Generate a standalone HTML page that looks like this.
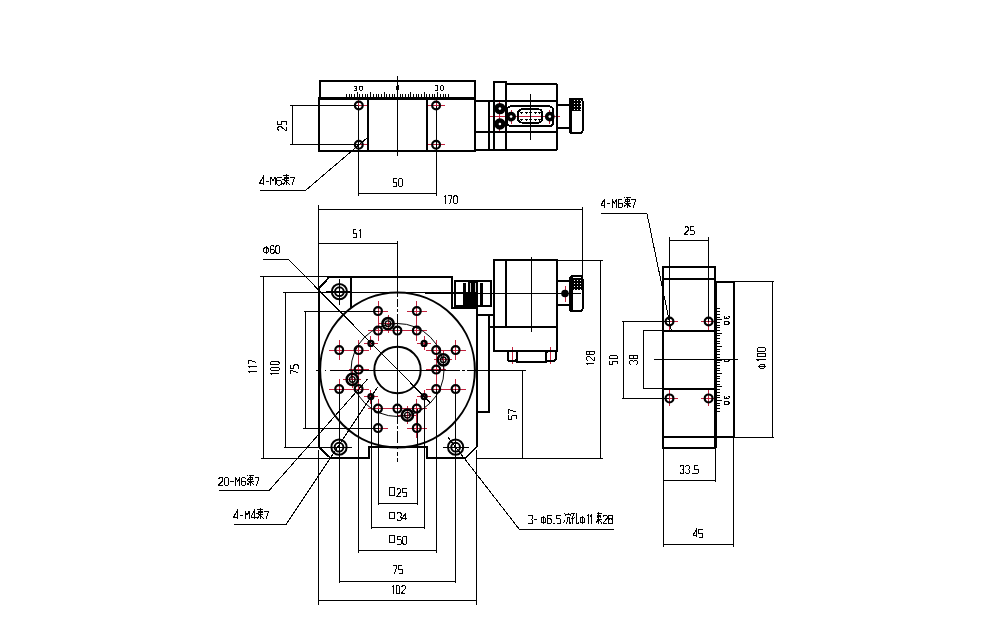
<!DOCTYPE html>
<html><head><meta charset="utf-8"><style>
html,body{margin:0;padding:0;background:#fff;width:995px;height:619px;overflow:hidden}
svg{display:block}
text{font-family:"Liberation Sans",sans-serif;fill:#000}
line,polyline,polygon,rect,path{shape-rendering:crispEdges}
</style></head><body>
<svg width="995" height="619" viewBox="0 0 995 619">
<defs><pattern id="knurl" width="3" height="3" patternUnits="userSpaceOnUse"><rect width="3" height="3" fill="#000"/><rect x="1" y="1" width="1.3" height="1.3" fill="#fff"/></pattern></defs>
<rect width="995" height="619" fill="#fff"/>
<line x1="350.3" y1="105.5" x2="367.3" y2="105.5" stroke="#c0203c" stroke-width="1" />
<line x1="358.8" y1="97.0" x2="358.8" y2="114.0" stroke="#c0203c" stroke-width="1" />
<line x1="350.3" y1="144.7" x2="367.3" y2="144.7" stroke="#c0203c" stroke-width="1" />
<line x1="358.8" y1="136.2" x2="358.8" y2="153.2" stroke="#c0203c" stroke-width="1" />
<line x1="427.6" y1="105.5" x2="444.6" y2="105.5" stroke="#c0203c" stroke-width="1" />
<line x1="436.1" y1="97.0" x2="436.1" y2="114.0" stroke="#c0203c" stroke-width="1" />
<line x1="427.6" y1="144.7" x2="444.6" y2="144.7" stroke="#c0203c" stroke-width="1" />
<line x1="436.1" y1="136.2" x2="436.1" y2="153.2" stroke="#c0203c" stroke-width="1" />
<line x1="490" y1="116.6" x2="560" y2="116.6" stroke="#c0203c" stroke-width="1" />
<line x1="504.1" y1="116.6" x2="518.1" y2="116.6" stroke="#c0203c" stroke-width="1" />
<line x1="511.1" y1="109.6" x2="511.1" y2="123.6" stroke="#c0203c" stroke-width="1" />
<line x1="542.8" y1="116.6" x2="556.8" y2="116.6" stroke="#c0203c" stroke-width="1" />
<line x1="549.8" y1="109.6" x2="549.8" y2="123.6" stroke="#c0203c" stroke-width="1" />
<line x1="492.9" y1="108.6" x2="506.9" y2="108.6" stroke="#c0203c" stroke-width="1" />
<line x1="499.9" y1="101.6" x2="499.9" y2="115.6" stroke="#c0203c" stroke-width="1" />
<line x1="492.9" y1="124" x2="506.9" y2="124" stroke="#c0203c" stroke-width="1" />
<line x1="499.9" y1="117" x2="499.9" y2="131" stroke="#c0203c" stroke-width="1" />
<line x1="368.0" y1="311.1" x2="388.0" y2="311.1" stroke="#c0203c" stroke-width="1" />
<line x1="378.0" y1="301.1" x2="378.0" y2="321.1" stroke="#c0203c" stroke-width="1" />
<line x1="406.79999999999995" y1="311.1" x2="426.79999999999995" y2="311.1" stroke="#c0203c" stroke-width="1" />
<line x1="416.79999999999995" y1="301.1" x2="416.79999999999995" y2="321.1" stroke="#c0203c" stroke-width="1" />
<line x1="368.0" y1="330.6" x2="388.0" y2="330.6" stroke="#c0203c" stroke-width="1" />
<line x1="378.0" y1="320.6" x2="378.0" y2="340.6" stroke="#c0203c" stroke-width="1" />
<line x1="387.4" y1="330.6" x2="407.4" y2="330.6" stroke="#c0203c" stroke-width="1" />
<line x1="397.4" y1="320.6" x2="397.4" y2="340.6" stroke="#c0203c" stroke-width="1" />
<line x1="406.79999999999995" y1="330.6" x2="426.79999999999995" y2="330.6" stroke="#c0203c" stroke-width="1" />
<line x1="416.79999999999995" y1="320.6" x2="416.79999999999995" y2="340.6" stroke="#c0203c" stroke-width="1" />
<line x1="329.2" y1="350.1" x2="349.2" y2="350.1" stroke="#c0203c" stroke-width="1" />
<line x1="339.2" y1="340.1" x2="339.2" y2="360.1" stroke="#c0203c" stroke-width="1" />
<line x1="348.59999999999997" y1="350.1" x2="368.59999999999997" y2="350.1" stroke="#c0203c" stroke-width="1" />
<line x1="358.59999999999997" y1="340.1" x2="358.59999999999997" y2="360.1" stroke="#c0203c" stroke-width="1" />
<line x1="426.2" y1="350.1" x2="446.2" y2="350.1" stroke="#c0203c" stroke-width="1" />
<line x1="436.2" y1="340.1" x2="436.2" y2="360.1" stroke="#c0203c" stroke-width="1" />
<line x1="445.59999999999997" y1="350.1" x2="465.59999999999997" y2="350.1" stroke="#c0203c" stroke-width="1" />
<line x1="455.59999999999997" y1="340.1" x2="455.59999999999997" y2="360.1" stroke="#c0203c" stroke-width="1" />
<line x1="348.59999999999997" y1="369.6" x2="368.59999999999997" y2="369.6" stroke="#c0203c" stroke-width="1" />
<line x1="358.59999999999997" y1="359.6" x2="358.59999999999997" y2="379.6" stroke="#c0203c" stroke-width="1" />
<line x1="426.2" y1="369.6" x2="446.2" y2="369.6" stroke="#c0203c" stroke-width="1" />
<line x1="436.2" y1="359.6" x2="436.2" y2="379.6" stroke="#c0203c" stroke-width="1" />
<line x1="329.2" y1="389.1" x2="349.2" y2="389.1" stroke="#c0203c" stroke-width="1" />
<line x1="339.2" y1="379.1" x2="339.2" y2="399.1" stroke="#c0203c" stroke-width="1" />
<line x1="348.59999999999997" y1="389.1" x2="368.59999999999997" y2="389.1" stroke="#c0203c" stroke-width="1" />
<line x1="358.59999999999997" y1="379.1" x2="358.59999999999997" y2="399.1" stroke="#c0203c" stroke-width="1" />
<line x1="426.2" y1="389.1" x2="446.2" y2="389.1" stroke="#c0203c" stroke-width="1" />
<line x1="436.2" y1="379.1" x2="436.2" y2="399.1" stroke="#c0203c" stroke-width="1" />
<line x1="445.59999999999997" y1="389.1" x2="465.59999999999997" y2="389.1" stroke="#c0203c" stroke-width="1" />
<line x1="455.59999999999997" y1="379.1" x2="455.59999999999997" y2="399.1" stroke="#c0203c" stroke-width="1" />
<line x1="368.0" y1="408.6" x2="388.0" y2="408.6" stroke="#c0203c" stroke-width="1" />
<line x1="378.0" y1="398.6" x2="378.0" y2="418.6" stroke="#c0203c" stroke-width="1" />
<line x1="387.4" y1="408.6" x2="407.4" y2="408.6" stroke="#c0203c" stroke-width="1" />
<line x1="397.4" y1="398.6" x2="397.4" y2="418.6" stroke="#c0203c" stroke-width="1" />
<line x1="406.79999999999995" y1="408.6" x2="426.79999999999995" y2="408.6" stroke="#c0203c" stroke-width="1" />
<line x1="416.79999999999995" y1="398.6" x2="416.79999999999995" y2="418.6" stroke="#c0203c" stroke-width="1" />
<line x1="368.0" y1="428.1" x2="388.0" y2="428.1" stroke="#c0203c" stroke-width="1" />
<line x1="378.0" y1="418.1" x2="378.0" y2="438.1" stroke="#c0203c" stroke-width="1" />
<line x1="406.79999999999995" y1="428.1" x2="426.79999999999995" y2="428.1" stroke="#c0203c" stroke-width="1" />
<line x1="416.79999999999995" y1="418.1" x2="416.79999999999995" y2="438.1" stroke="#c0203c" stroke-width="1" />
<line x1="363.9" y1="343.4" x2="377.9" y2="343.4" stroke="#c0203c" stroke-width="1" />
<line x1="370.9" y1="336.4" x2="370.9" y2="350.4" stroke="#c0203c" stroke-width="1" />
<line x1="363.9" y1="396.6" x2="377.9" y2="396.6" stroke="#c0203c" stroke-width="1" />
<line x1="370.9" y1="389.6" x2="370.9" y2="403.6" stroke="#c0203c" stroke-width="1" />
<line x1="417.1" y1="343.4" x2="431.1" y2="343.4" stroke="#c0203c" stroke-width="1" />
<line x1="424.1" y1="336.4" x2="424.1" y2="350.4" stroke="#c0203c" stroke-width="1" />
<line x1="417.1" y1="396.6" x2="431.1" y2="396.6" stroke="#c0203c" stroke-width="1" />
<line x1="424.1" y1="389.6" x2="424.1" y2="403.6" stroke="#c0203c" stroke-width="1" />
<line x1="379.0" y1="323.7" x2="397.0" y2="323.7" stroke="#c0203c" stroke-width="1" />
<line x1="388.0" y1="314.7" x2="388.0" y2="332.7" stroke="#c0203c" stroke-width="1" />
<line x1="434.3" y1="359.8" x2="452.3" y2="359.8" stroke="#c0203c" stroke-width="1" />
<line x1="443.3" y1="350.8" x2="443.3" y2="368.8" stroke="#c0203c" stroke-width="1" />
<line x1="343.3" y1="379.4" x2="361.3" y2="379.4" stroke="#c0203c" stroke-width="1" />
<line x1="352.3" y1="370.4" x2="352.3" y2="388.4" stroke="#c0203c" stroke-width="1" />
<line x1="398.4" y1="415.2" x2="416.4" y2="415.2" stroke="#c0203c" stroke-width="1" />
<line x1="407.4" y1="406.2" x2="407.4" y2="424.2" stroke="#c0203c" stroke-width="1" />
<line x1="565" y1="286" x2="565" y2="302" stroke="#c0203c" stroke-width="1" />
<line x1="512.4" y1="347" x2="512.4" y2="364" stroke="#c0203c" stroke-width="1" />
<line x1="550.8" y1="347" x2="550.8" y2="364" stroke="#c0203c" stroke-width="1" />
<line x1="661.5" y1="321.5" x2="677.5" y2="321.5" stroke="#c0203c" stroke-width="1" />
<line x1="669.5" y1="313.5" x2="669.5" y2="329.5" stroke="#c0203c" stroke-width="1" />
<line x1="661.5" y1="398.4" x2="677.5" y2="398.4" stroke="#c0203c" stroke-width="1" />
<line x1="669.5" y1="390.4" x2="669.5" y2="406.4" stroke="#c0203c" stroke-width="1" />
<line x1="700.6" y1="321.5" x2="716.6" y2="321.5" stroke="#c0203c" stroke-width="1" />
<line x1="708.6" y1="313.5" x2="708.6" y2="329.5" stroke="#c0203c" stroke-width="1" />
<line x1="700.6" y1="398.4" x2="716.6" y2="398.4" stroke="#c0203c" stroke-width="1" />
<line x1="708.6" y1="390.4" x2="708.6" y2="406.4" stroke="#c0203c" stroke-width="1" />
<rect x="320" y="81" width="155" height="17" rx="0" fill="none" stroke="#000" stroke-width="2"/>
<rect x="319" y="98" width="156" height="53" rx="0" fill="none" stroke="#000" stroke-width="2"/>
<line x1="319" y1="98" x2="475" y2="98" stroke="#000" stroke-width="3" />
<line x1="368" y1="98" x2="368" y2="151" stroke="#000" stroke-width="2" />
<line x1="427" y1="98" x2="427" y2="151" stroke="#000" stroke-width="2" />
<line x1="397.5" y1="76" x2="397.5" y2="156" stroke="#000" stroke-width="1" />
<line x1="346.5" y1="94.4" x2="346.5" y2="98" stroke="#000" stroke-width="1" />
<line x1="349.2" y1="94.4" x2="349.2" y2="98" stroke="#000" stroke-width="1" />
<line x1="351.8" y1="94.4" x2="351.8" y2="98" stroke="#000" stroke-width="1" />
<line x1="354.5" y1="94.4" x2="354.5" y2="98" stroke="#000" stroke-width="1" />
<line x1="357.2" y1="92.3" x2="357.2" y2="98" stroke="#000" stroke-width="1" />
<line x1="359.9" y1="94.4" x2="359.9" y2="98" stroke="#000" stroke-width="1" />
<line x1="362.6" y1="94.4" x2="362.6" y2="98" stroke="#000" stroke-width="1" />
<line x1="365.2" y1="94.4" x2="365.2" y2="98" stroke="#000" stroke-width="1" />
<line x1="367.9" y1="94.4" x2="367.9" y2="98" stroke="#000" stroke-width="1" />
<line x1="370.6" y1="92.3" x2="370.6" y2="98" stroke="#000" stroke-width="1" />
<line x1="373.3" y1="94.4" x2="373.3" y2="98" stroke="#000" stroke-width="1" />
<line x1="376.0" y1="94.4" x2="376.0" y2="98" stroke="#000" stroke-width="1" />
<line x1="378.6" y1="94.4" x2="378.6" y2="98" stroke="#000" stroke-width="1" />
<line x1="381.3" y1="94.4" x2="381.3" y2="98" stroke="#000" stroke-width="1" />
<line x1="384.0" y1="92.3" x2="384.0" y2="98" stroke="#000" stroke-width="1" />
<line x1="386.7" y1="94.4" x2="386.7" y2="98" stroke="#000" stroke-width="1" />
<line x1="389.4" y1="94.4" x2="389.4" y2="98" stroke="#000" stroke-width="1" />
<line x1="392.0" y1="94.4" x2="392.0" y2="98" stroke="#000" stroke-width="1" />
<line x1="394.7" y1="94.4" x2="394.7" y2="98" stroke="#000" stroke-width="1" />
<line x1="397.4" y1="92.3" x2="397.4" y2="98" stroke="#000" stroke-width="1" />
<line x1="400.1" y1="94.4" x2="400.1" y2="98" stroke="#000" stroke-width="1" />
<line x1="402.8" y1="94.4" x2="402.8" y2="98" stroke="#000" stroke-width="1" />
<line x1="405.4" y1="94.4" x2="405.4" y2="98" stroke="#000" stroke-width="1" />
<line x1="408.1" y1="94.4" x2="408.1" y2="98" stroke="#000" stroke-width="1" />
<line x1="410.8" y1="92.3" x2="410.8" y2="98" stroke="#000" stroke-width="1" />
<line x1="413.5" y1="94.4" x2="413.5" y2="98" stroke="#000" stroke-width="1" />
<line x1="416.2" y1="94.4" x2="416.2" y2="98" stroke="#000" stroke-width="1" />
<line x1="418.8" y1="94.4" x2="418.8" y2="98" stroke="#000" stroke-width="1" />
<line x1="421.5" y1="94.4" x2="421.5" y2="98" stroke="#000" stroke-width="1" />
<line x1="424.2" y1="92.3" x2="424.2" y2="98" stroke="#000" stroke-width="1" />
<line x1="426.9" y1="94.4" x2="426.9" y2="98" stroke="#000" stroke-width="1" />
<line x1="429.6" y1="94.4" x2="429.6" y2="98" stroke="#000" stroke-width="1" />
<line x1="432.2" y1="94.4" x2="432.2" y2="98" stroke="#000" stroke-width="1" />
<line x1="434.9" y1="94.4" x2="434.9" y2="98" stroke="#000" stroke-width="1" />
<line x1="437.6" y1="92.3" x2="437.6" y2="98" stroke="#000" stroke-width="1" />
<line x1="440.3" y1="94.4" x2="440.3" y2="98" stroke="#000" stroke-width="1" />
<line x1="443.0" y1="94.4" x2="443.0" y2="98" stroke="#000" stroke-width="1" />
<line x1="445.6" y1="94.4" x2="445.6" y2="98" stroke="#000" stroke-width="1" />
<line x1="448.3" y1="94.4" x2="448.3" y2="98" stroke="#000" stroke-width="1" />
<path transform="translate(354.15,86.05)" d="M0.00,0.60 L0.34,0.00 L1.95,0.00 L2.29,0.40 L2.29,1.80 L1.83,2.25 L2.29,2.70 L2.29,4.10 L1.95,4.50 L0.34,4.50 L0.00,3.90 M6.17,0.00 L7.32,0.00 L7.89,0.50 L7.89,4.00 L7.32,4.50 L6.17,4.50 L5.60,4.00 L5.60,0.50 Z" fill="none" stroke="#000" stroke-width="1.0" stroke-linejoin="miter"/>
<path transform="translate(396.60,85.70)" d="M0.50,0.00 L1.50,0.00 L2.00,0.44 L2.00,3.56 L1.50,4.00 L0.50,4.00 L0.00,3.56 L0.00,0.44 Z" fill="none" stroke="#000" stroke-width="1.0" stroke-linejoin="miter"/>
<path transform="translate(435.00,85.65)" d="M0.00,0.63 L0.38,0.00 L2.12,0.00 L2.50,0.42 L2.50,1.88 L2.00,2.35 L2.50,2.82 L2.50,4.28 L2.12,4.70 L0.38,4.70 L0.00,4.07 M6.22,0.00 L7.47,0.00 L8.10,0.52 L8.10,4.18 L7.47,4.70 L6.22,4.70 L5.60,4.18 L5.60,0.52 Z" fill="none" stroke="#000" stroke-width="1.0" stroke-linejoin="miter"/>
<line x1="358.8" y1="105.5" x2="358.8" y2="196" stroke="#000" stroke-width="1" />
<line x1="436.1" y1="105.5" x2="436.1" y2="196" stroke="#000" stroke-width="1" />
<line x1="290" y1="105.5" x2="358" y2="105.5" stroke="#000" stroke-width="1" />
<line x1="290" y1="144.7" x2="358" y2="144.7" stroke="#000" stroke-width="1" />
<line x1="292.5" y1="105.5" x2="292.5" y2="144.7" stroke="#000" stroke-width="1" />
<circle cx="358.8" cy="105.5" r="3.9" fill="none" stroke="#000" stroke-width="2.2"/>
<circle cx="358.8" cy="144.7" r="3.9" fill="none" stroke="#000" stroke-width="2.2"/>
<circle cx="436.1" cy="105.5" r="3.9" fill="none" stroke="#000" stroke-width="2.2"/>
<circle cx="436.1" cy="144.7" r="3.9" fill="none" stroke="#000" stroke-width="2.2"/>
<path transform="rotate(-90 282.1 126) translate(277.60,121.75)" d="M0.00,1.42 L0.94,0.00 L2.81,0.00 L3.75,0.94 L3.75,3.31 L0.00,7.56 L0.00,8.50 L3.75,8.50 M9.35,0.00 L5.60,0.00 L5.60,3.78 L8.79,3.78 L9.35,4.53 L9.35,7.74 L8.79,8.50 L5.60,8.50" fill="none" stroke="#000" stroke-width="1.0" stroke-linejoin="miter"/>
<line x1="358.8" y1="193.6" x2="436.1" y2="193.6" stroke="#000" stroke-width="1" />
<path transform="translate(393.15,178.50)" d="M3.54,0.00 L0.00,0.00 L0.00,3.56 L3.01,3.56 L3.54,4.27 L3.54,7.29 L3.01,8.00 L0.00,8.00 M6.49,0.00 L8.26,0.00 L9.14,0.89 L9.14,7.11 L8.26,8.00 L6.49,8.00 L5.60,7.11 L5.60,0.89 Z" fill="none" stroke="#000" stroke-width="1.0" stroke-linejoin="miter"/>
<polyline points="367,138 305.6,190.4 260,190.4" fill="none" stroke="#000" stroke-width="1"/>
<path transform="translate(259.80,177.00)" d="M3.21,8.00 L3.21,0.00 L0.00,5.78 L0.00,6.22 L4.49,6.22 M6.13,4.27 L9.34,4.27 M11.20,8.00 L11.20,0.00 L13.34,4.00 L15.48,0.00 L15.48,8.00 M21.48,0.89 L20.41,0.00 L18.27,0.00 L17.20,0.89 L17.20,7.11 L18.27,8.00 L20.41,8.00 L21.48,7.11 L21.48,4.44 L20.41,3.56 L17.20,3.56 M23.12,-1.96 L23.87,-1.42 M24.51,-1.60 L29.65,-1.60 M26.44,-2.67 L26.44,8.36 M24.30,0.36 L28.79,0.36 M24.73,0.36 L24.73,2.84 M28.36,0.36 L28.36,2.49 M22.80,2.31 L23.87,2.84 M24.08,3.73 L29.65,3.73 M26.44,3.91 L23.23,7.47 M22.80,6.04 L23.87,6.40 M26.44,4.44 L29.86,7.64 M27.51,5.87 L28.58,5.51 M25.15,1.78 L27.72,1.78 M30.40,0.00 L34.68,0.00 L34.68,1.07 L32.11,8.00" fill="none" stroke="#000" stroke-width="1.0" stroke-linejoin="miter"/>
<line x1="475" y1="101" x2="557" y2="101" stroke="#000" stroke-width="2" />
<line x1="475" y1="131.5" x2="557" y2="131.5" stroke="#000" stroke-width="2" />
<line x1="475" y1="150" x2="557" y2="150" stroke="#000" stroke-width="2" />
<line x1="489" y1="101" x2="489" y2="150" stroke="#000" stroke-width="2" />
<rect x="494" y="81.5" width="12" height="68.5" rx="0" fill="none" stroke="#000" stroke-width="2"/>
<line x1="506" y1="84" x2="557" y2="84" stroke="#000" stroke-width="2" />
<line x1="557" y1="84" x2="557" y2="150" stroke="#000" stroke-width="2" />
<rect x="506.9" y="106.4" width="46.39999999999998" height="19.69999999999999" rx="4" fill="none" stroke="#000" stroke-width="2"/>
<rect x="518.1" y="109.3" width="24.299999999999955" height="13.299999999999997" rx="4" fill="none" stroke="#000" stroke-width="2"/>
<line x1="520.0" y1="112.5" x2="523.0" y2="112.5" stroke="#000" stroke-width="1" />
<line x1="521.5" y1="111.5" x2="521.5" y2="113.5" stroke="#000" stroke-width="1" />
<line x1="520.0" y1="119.5" x2="523.0" y2="119.5" stroke="#000" stroke-width="1" />
<line x1="521.5" y1="118.5" x2="521.5" y2="120.5" stroke="#000" stroke-width="1" />
<line x1="524.5" y1="112.5" x2="527.5" y2="112.5" stroke="#000" stroke-width="1" />
<line x1="526" y1="111.5" x2="526" y2="113.5" stroke="#000" stroke-width="1" />
<line x1="524.5" y1="119.5" x2="527.5" y2="119.5" stroke="#000" stroke-width="1" />
<line x1="526" y1="118.5" x2="526" y2="120.5" stroke="#000" stroke-width="1" />
<line x1="529.0" y1="112.5" x2="532.0" y2="112.5" stroke="#000" stroke-width="1" />
<line x1="530.5" y1="111.5" x2="530.5" y2="113.5" stroke="#000" stroke-width="1" />
<line x1="529.0" y1="119.5" x2="532.0" y2="119.5" stroke="#000" stroke-width="1" />
<line x1="530.5" y1="118.5" x2="530.5" y2="120.5" stroke="#000" stroke-width="1" />
<line x1="533.5" y1="112.5" x2="536.5" y2="112.5" stroke="#000" stroke-width="1" />
<line x1="535" y1="111.5" x2="535" y2="113.5" stroke="#000" stroke-width="1" />
<line x1="533.5" y1="119.5" x2="536.5" y2="119.5" stroke="#000" stroke-width="1" />
<line x1="535" y1="118.5" x2="535" y2="120.5" stroke="#000" stroke-width="1" />
<line x1="538.0" y1="112.5" x2="541.0" y2="112.5" stroke="#000" stroke-width="1" />
<line x1="539.5" y1="111.5" x2="539.5" y2="113.5" stroke="#000" stroke-width="1" />
<line x1="538.0" y1="119.5" x2="541.0" y2="119.5" stroke="#000" stroke-width="1" />
<line x1="539.5" y1="118.5" x2="539.5" y2="120.5" stroke="#000" stroke-width="1" />
<circle cx="511.1" cy="116.6" r="3.8" fill="#000" stroke="#000" stroke-width="2.2"/>
<circle cx="511.1" cy="116.6" r="1.3" fill="#fff" stroke="#000" stroke-width="0"/>
<circle cx="549.8" cy="116.6" r="3.8" fill="#000" stroke="#000" stroke-width="2.2"/>
<circle cx="549.8" cy="116.6" r="1.3" fill="#fff" stroke="#000" stroke-width="0"/>
<circle cx="499.9" cy="108.6" r="4.6" fill="#000" stroke="#000" stroke-width="2.2"/>
<circle cx="499.9" cy="108.6" r="1.3" fill="#fff" stroke="#000" stroke-width="0"/>
<circle cx="499.9" cy="124" r="4.6" fill="#000" stroke="#000" stroke-width="2.2"/>
<circle cx="499.9" cy="124" r="1.3" fill="#fff" stroke="#000" stroke-width="0"/>
<line x1="530.4" y1="94" x2="530.4" y2="140" stroke="#000" stroke-width="1" />
<rect x="557" y="104.5" width="12.600000000000023" height="23.5" rx="0" fill="none" stroke="#000" stroke-width="2"/>
<rect x="569.6" y="98.5" width="12.899999999999977" height="34.69999999999999" rx="2.5" fill="none" stroke="#000" stroke-width="2"/>
<line x1="571.2" y1="99" x2="571.2" y2="133" stroke="#000" stroke-width="2" />
<rect x="572" y="100" width="9" height="11" fill="url(#knurl)"/>
<line x1="318.6" y1="205" x2="318.6" y2="289" stroke="#000" stroke-width="1" />
<line x1="318.6" y1="209.7" x2="582.4" y2="209.7" stroke="#000" stroke-width="1" />
<line x1="582.4" y1="207" x2="582.4" y2="277" stroke="#000" stroke-width="1" />
<path transform="translate(443.35,195.80)" d="M0.67,1.42 L2.02,0.00 L2.02,8.00 M5.00,0.00 L8.37,0.00 L8.37,1.07 L6.35,8.00 M11.44,0.00 L13.13,0.00 L13.97,0.89 L13.97,7.11 L13.13,8.00 L11.44,8.00 L10.60,7.11 L10.60,0.89 Z" fill="none" stroke="#000" stroke-width="1.0" stroke-linejoin="miter"/>
<line x1="318.6" y1="243.9" x2="397.5" y2="243.9" stroke="#000" stroke-width="1" />
<path transform="translate(353.40,229.50)" d="M3.08,0.00 L0.00,0.00 L0.00,3.56 L2.62,3.56 L3.08,4.27 L3.08,7.29 L2.62,8.00 L0.00,8.00 M6.22,1.42 L7.45,0.00 L7.45,8.00" fill="none" stroke="#000" stroke-width="1.0" stroke-linejoin="miter"/>
<line x1="397.5" y1="241" x2="397.5" y2="293" stroke="#000" stroke-width="1" />
<line x1="397.5" y1="293" x2="397.5" y2="462" stroke="#000" stroke-width="1" stroke-dasharray="4,2,8,2,3,2,110,2,3,2,12,3,3,3"/>
<line x1="316" y1="370" x2="477" y2="370" stroke="#000" stroke-width="1" stroke-dasharray="4,5,1,4,130,2,3,2,12,3"/>
<polyline points="263,259.4 288.4,259.4 430.5,403" fill="none" stroke="#000" stroke-width="1"/>
<path transform="translate(263.80,245.75)" d="M0.97,2.17 L3.49,2.17 L4.46,3.00 L4.46,5.83 L3.49,6.67 L0.97,6.67 L0.00,5.83 L0.00,3.00 Z M2.23,0.50 L2.23,8.00 M10.28,0.83 L9.31,0.00 L7.37,0.00 L6.40,0.83 L6.40,6.67 L7.37,7.50 L9.31,7.50 L10.28,6.67 L10.28,4.17 L9.31,3.33 L6.40,3.33 M12.97,0.00 L14.91,0.00 L15.88,0.83 L15.88,6.67 L14.91,7.50 L12.97,7.50 L12.00,6.67 L12.00,0.83 Z" fill="none" stroke="#000" stroke-width="1.0" stroke-linejoin="miter"/>
<line x1="260.2" y1="276.8" x2="330" y2="276.8" stroke="#000" stroke-width="1" />
<line x1="263.6" y1="276.8" x2="263.6" y2="458.2" stroke="#000" stroke-width="1" />
<line x1="260.5" y1="458.2" x2="331" y2="458.2" stroke="#000" stroke-width="1" />
<path transform="rotate(-90 252.6 367.4) translate(246.10,363.50)" d="M0.74,1.39 L2.23,0.00 L2.23,7.80 M5.74,1.39 L7.23,0.00 L7.23,7.80 M10.00,0.00 L13.71,0.00 L13.71,1.04 L11.49,7.80" fill="none" stroke="#000" stroke-width="1.0" stroke-linejoin="miter"/>
<line x1="283.4" y1="292.2" x2="470" y2="292.2" stroke="#000" stroke-width="1" />
<line x1="285.3" y1="292.2" x2="285.3" y2="447.2" stroke="#000" stroke-width="1" />
<line x1="284" y1="447.2" x2="339" y2="447.2" stroke="#000" stroke-width="1" />
<path transform="rotate(-90 274.9 369.9) translate(269.40,365.65)" d="M0.60,1.51 L1.81,0.00 L1.81,8.50 M5.75,0.00 L7.26,0.00 L8.01,0.94 L8.01,7.56 L7.26,8.50 L5.75,8.50 L5.00,7.56 L5.00,0.94 Z M11.35,0.00 L12.86,0.00 L13.61,0.94 L13.61,7.56 L12.86,8.50 L11.35,8.50 L10.60,7.56 L10.60,0.94 Z" fill="none" stroke="#000" stroke-width="1.0" stroke-linejoin="miter"/>
<line x1="303.5" y1="311.3" x2="378.5" y2="311.3" stroke="#000" stroke-width="1" />
<line x1="305.2" y1="311.3" x2="305.2" y2="428.1" stroke="#000" stroke-width="1" />
<line x1="303.2" y1="428.1" x2="378.5" y2="428.1" stroke="#000" stroke-width="1" />
<path transform="rotate(-90 294.4 369.8) translate(289.90,365.95)" d="M0.00,0.00 L3.75,0.00 L3.75,1.03 L1.50,7.70 M9.35,0.00 L5.60,0.00 L5.60,3.42 L8.79,3.42 L9.35,4.11 L9.35,7.02 L8.79,7.70 L5.60,7.70" fill="none" stroke="#000" stroke-width="1.0" stroke-linejoin="miter"/>
<polygon points="318.6,288.8 329.4,276.8 451.6,276.8 451.6,308 477,308 477,446.5 465.5,458.1 426.7,458.1 426.7,447.2 368.8,447.2 368.8,458.1 330.6,458.1 318.6,446.5" fill="none" stroke="#000" stroke-width="2"/>
<line x1="350.9" y1="276.8" x2="350.9" y2="307.8" stroke="#000" stroke-width="2" />
<circle cx="397.5" cy="370" r="77.4" fill="none" stroke="#000" stroke-width="2"/>
<circle cx="397.5" cy="370" r="23.2" fill="none" stroke="#000" stroke-width="2"/>
<circle cx="397.5" cy="370" r="46.5" fill="none" stroke="#000" stroke-width="1"/>
<circle cx="339.4" cy="291.7" r="7.6" fill="none" stroke="#000" stroke-width="2"/>
<circle cx="339.4" cy="291.7" r="4.4" fill="none" stroke="#000" stroke-width="2"/>
<line x1="339.4" y1="278.7" x2="339.4" y2="304.7" stroke="#000" stroke-width="1" />
<line x1="326.4" y1="291.7" x2="352.4" y2="291.7" stroke="#000" stroke-width="1" />
<circle cx="339" cy="447.2" r="7.6" fill="none" stroke="#000" stroke-width="2"/>
<circle cx="339" cy="447.2" r="4.4" fill="none" stroke="#000" stroke-width="2"/>
<line x1="339" y1="434.2" x2="339" y2="460.2" stroke="#000" stroke-width="1" />
<line x1="326" y1="447.2" x2="352" y2="447.2" stroke="#000" stroke-width="1" />
<circle cx="455.6" cy="447.2" r="7.6" fill="none" stroke="#000" stroke-width="2"/>
<circle cx="455.6" cy="447.2" r="4.4" fill="none" stroke="#000" stroke-width="2"/>
<line x1="455.6" y1="434.2" x2="455.6" y2="460.2" stroke="#000" stroke-width="1" />
<line x1="442.6" y1="447.2" x2="468.6" y2="447.2" stroke="#000" stroke-width="1" />
<circle cx="378.0" cy="311.1" r="3.9" fill="none" stroke="#000" stroke-width="2.2"/>
<circle cx="416.79999999999995" cy="311.1" r="3.9" fill="none" stroke="#000" stroke-width="2.2"/>
<circle cx="378.0" cy="330.6" r="3.9" fill="none" stroke="#000" stroke-width="2.2"/>
<circle cx="397.4" cy="330.6" r="3.9" fill="none" stroke="#000" stroke-width="2.2"/>
<circle cx="416.79999999999995" cy="330.6" r="3.9" fill="none" stroke="#000" stroke-width="2.2"/>
<circle cx="339.2" cy="350.1" r="3.9" fill="none" stroke="#000" stroke-width="2.2"/>
<circle cx="358.59999999999997" cy="350.1" r="3.9" fill="none" stroke="#000" stroke-width="2.2"/>
<circle cx="436.2" cy="350.1" r="3.9" fill="none" stroke="#000" stroke-width="2.2"/>
<circle cx="455.59999999999997" cy="350.1" r="3.9" fill="none" stroke="#000" stroke-width="2.2"/>
<circle cx="358.59999999999997" cy="369.6" r="3.9" fill="none" stroke="#000" stroke-width="2.2"/>
<circle cx="436.2" cy="369.6" r="3.9" fill="none" stroke="#000" stroke-width="2.2"/>
<circle cx="339.2" cy="389.1" r="3.9" fill="none" stroke="#000" stroke-width="2.2"/>
<circle cx="358.59999999999997" cy="389.1" r="3.9" fill="none" stroke="#000" stroke-width="2.2"/>
<circle cx="436.2" cy="389.1" r="3.9" fill="none" stroke="#000" stroke-width="2.2"/>
<circle cx="455.59999999999997" cy="389.1" r="3.9" fill="none" stroke="#000" stroke-width="2.2"/>
<circle cx="378.0" cy="408.6" r="3.9" fill="none" stroke="#000" stroke-width="2.2"/>
<circle cx="397.4" cy="408.6" r="3.9" fill="none" stroke="#000" stroke-width="2.2"/>
<circle cx="416.79999999999995" cy="408.6" r="3.9" fill="none" stroke="#000" stroke-width="2.2"/>
<circle cx="378.0" cy="428.1" r="3.9" fill="none" stroke="#000" stroke-width="2.2"/>
<circle cx="416.79999999999995" cy="428.1" r="3.9" fill="none" stroke="#000" stroke-width="2.2"/>
<circle cx="370.9" cy="343.4" r="2.4" fill="none" stroke="#000" stroke-width="2.4"/>
<circle cx="370.9" cy="396.6" r="2.4" fill="none" stroke="#000" stroke-width="2.4"/>
<circle cx="424.1" cy="343.4" r="2.4" fill="none" stroke="#000" stroke-width="2.4"/>
<circle cx="424.1" cy="396.6" r="2.4" fill="none" stroke="#000" stroke-width="2.4"/>
<circle cx="388.0" cy="323.7" r="5.6" fill="none" stroke="#000" stroke-width="2.6"/>
<circle cx="388.0" cy="323.7" r="2.8" fill="none" stroke="#000" stroke-width="1.4"/>
<circle cx="443.3" cy="359.8" r="5.6" fill="none" stroke="#000" stroke-width="2.6"/>
<circle cx="443.3" cy="359.8" r="2.8" fill="none" stroke="#000" stroke-width="1.4"/>
<circle cx="352.3" cy="379.4" r="5.6" fill="none" stroke="#000" stroke-width="2.6"/>
<circle cx="352.3" cy="379.4" r="2.8" fill="none" stroke="#000" stroke-width="1.4"/>
<circle cx="407.4" cy="415.2" r="5.6" fill="none" stroke="#000" stroke-width="2.6"/>
<circle cx="407.4" cy="415.2" r="2.8" fill="none" stroke="#000" stroke-width="1.4"/>
<polyline points="218.6,490.4 269.2,490.4 367.6,379" fill="none" stroke="#000" stroke-width="1"/>
<path transform="translate(218.70,477.50)" d="M0.00,1.33 L1.05,0.00 L3.15,0.00 L4.20,0.89 L4.20,3.11 L0.00,7.11 L0.00,8.00 L4.20,8.00 M6.65,0.00 L8.75,0.00 L9.80,0.89 L9.80,7.11 L8.75,8.00 L6.65,8.00 L5.60,7.11 L5.60,0.89 Z M11.72,4.27 L14.88,4.27 M16.80,8.00 L16.80,0.00 L18.90,4.00 L21.00,0.00 L21.00,8.00 M27.00,0.89 L25.95,0.00 L23.85,0.00 L22.80,0.89 L22.80,7.11 L23.85,8.00 L25.95,8.00 L27.00,7.11 L27.00,4.44 L25.95,3.56 L22.80,3.56 M28.71,-1.96 L29.45,-1.42 M30.08,-1.60 L35.12,-1.60 M31.97,-2.67 L31.97,8.36 M29.87,0.36 L34.28,0.36 M30.29,0.36 L30.29,2.84 M33.86,0.36 L33.86,2.49 M28.40,2.31 L29.45,2.84 M29.66,3.73 L35.12,3.73 M31.97,3.91 L28.82,7.47 M28.40,6.04 L29.45,6.40 M31.97,4.44 L35.33,7.64 M33.02,5.87 L34.07,5.51 M30.71,1.78 L33.23,1.78 M36.00,0.00 L40.20,0.00 L40.20,1.07 L37.68,8.00" fill="none" stroke="#000" stroke-width="1.0" stroke-linejoin="miter"/>
<polyline points="233.8,524.5 286.1,524.5 377.8,386.7" fill="none" stroke="#000" stroke-width="1"/>
<path transform="translate(233.80,511.00)" d="M3.23,8.00 L3.23,0.00 L0.00,5.78 L0.00,6.22 L4.52,6.22 M6.14,4.27 L9.36,4.27 M11.20,8.00 L11.20,0.00 L13.35,4.00 L15.50,0.00 L15.50,8.00 M20.43,8.00 L20.43,0.00 L17.20,5.78 L17.20,6.22 L21.72,6.22 M23.12,-1.96 L23.88,-1.42 M24.52,-1.60 L29.68,-1.60 M26.46,-2.67 L26.46,8.36 M24.31,0.36 L28.82,0.36 M24.74,0.36 L24.74,2.84 M28.39,0.36 L28.39,2.49 M22.80,2.31 L23.88,2.84 M24.09,3.73 L29.68,3.73 M26.46,3.91 L23.23,7.47 M22.80,6.04 L23.88,6.40 M26.46,4.44 L29.90,7.64 M27.53,5.87 L28.61,5.51 M25.17,1.78 L27.75,1.78 M30.40,0.00 L34.70,0.00 L34.70,1.07 L32.12,8.00" fill="none" stroke="#000" stroke-width="1.0" stroke-linejoin="miter"/>
<line x1="318.6" y1="450" x2="318.6" y2="605" stroke="#000" stroke-width="1" />
<line x1="339.3" y1="389" x2="339.3" y2="583" stroke="#000" stroke-width="1" />
<line x1="358.6" y1="389" x2="358.6" y2="553" stroke="#000" stroke-width="1" />
<line x1="371.2" y1="396.6" x2="371.2" y2="529" stroke="#000" stroke-width="1" />
<line x1="378.6" y1="408.6" x2="378.6" y2="505" stroke="#000" stroke-width="1" />
<line x1="417.1" y1="408.6" x2="417.1" y2="505" stroke="#000" stroke-width="1" />
<line x1="424.2" y1="396.6" x2="424.2" y2="529" stroke="#000" stroke-width="1" />
<line x1="436.2" y1="389" x2="436.2" y2="553" stroke="#000" stroke-width="1" />
<line x1="455.6" y1="389" x2="455.6" y2="583" stroke="#000" stroke-width="1" />
<line x1="476.5" y1="450" x2="476.5" y2="605" stroke="#000" stroke-width="1" />
<line x1="378.6" y1="503.2" x2="417.1" y2="503.2" stroke="#000" stroke-width="1" />
<path d="M389.80,487.86 L394.80,487.86 L394.80,495.24 L389.80,495.24 Z M396.80,489.98 L397.80,488.60 L399.80,488.60 L400.80,489.52 L400.80,491.83 L396.80,495.98 L396.80,496.90 L400.80,496.90 M406.50,488.60 L402.50,488.60 L402.50,492.29 L405.90,492.29 L406.50,493.03 L406.50,496.16 L405.90,496.90 L402.50,496.90" fill="none" stroke="#000" stroke-width="1.0"/>
<line x1="371.2" y1="527.4" x2="424.2" y2="527.4" stroke="#000" stroke-width="1" />
<path d="M389.80,512.12 L394.80,512.12 L394.80,518.88 L389.80,518.88 Z M397.00,513.81 L397.60,512.80 L400.40,512.80 L401.00,513.48 L401.00,515.84 L400.20,516.60 L401.00,517.36 L401.00,519.72 L400.40,520.40 L397.60,520.40 L397.00,519.39 M405.50,520.40 L405.50,512.80 L402.50,518.29 L402.50,518.71 L406.70,518.71" fill="none" stroke="#000" stroke-width="1.0"/>
<line x1="358.6" y1="550.7" x2="436.2" y2="550.7" stroke="#000" stroke-width="1" />
<path d="M389.80,535.49 L394.80,535.49 L394.80,542.60 L389.80,542.60 Z M401.30,536.20 L397.30,536.20 L397.30,539.76 L400.70,539.76 L401.30,540.47 L401.30,543.49 L400.70,544.20 L397.30,544.20 M403.90,536.20 L405.90,536.20 L406.90,537.09 L406.90,543.31 L405.90,544.20 L403.90,544.20 L402.90,543.31 L402.90,537.09 Z" fill="none" stroke="#000" stroke-width="1.0"/>
<line x1="339.3" y1="581.5" x2="455.6" y2="581.5" stroke="#000" stroke-width="1" />
<path transform="translate(393.00,565.80)" d="M0.00,0.00 L3.75,0.00 L3.75,1.07 L1.50,8.00 M9.35,0.00 L5.60,0.00 L5.60,3.56 L8.79,3.56 L9.35,4.27 L9.35,7.29 L8.79,8.00 L5.60,8.00" fill="none" stroke="#000" stroke-width="1.0" stroke-linejoin="miter"/>
<line x1="318.6" y1="600.2" x2="476.5" y2="600.2" stroke="#000" stroke-width="1" />
<path transform="translate(391.15,585.60)" d="M0.70,1.42 L2.09,0.00 L2.09,8.00 M5.87,0.00 L7.61,0.00 L8.48,0.89 L8.48,7.11 L7.61,8.00 L5.87,8.00 L5.00,7.11 L5.00,0.89 Z M10.60,1.33 L11.47,0.00 L13.21,0.00 L14.08,0.89 L14.08,3.11 L10.60,7.11 L10.60,8.00 L14.08,8.00" fill="none" stroke="#000" stroke-width="1.0" stroke-linejoin="miter"/>
<polyline points="448,437.3 519.2,529.2 614.2,529.2" fill="none" stroke="#000" stroke-width="1"/>
<path d="M528.50,516.17 L529.10,515.00 L531.90,515.00 L532.50,515.78 L532.50,518.52 L531.70,519.40 L532.50,520.28 L532.50,523.02 L531.90,523.80 L529.10,523.80 L528.50,522.63 M534.20,519.69 L537.20,519.69 M542.10,517.54 L544.70,517.54 L545.70,518.52 L545.70,521.84 L544.70,522.82 L542.10,522.82 L541.10,521.84 L541.10,518.52 Z M543.40,515.59 L543.40,524.39 M551.40,515.98 L550.40,515.00 L548.40,515.00 L547.40,515.98 L547.40,522.82 L548.40,523.80 L550.40,523.80 L551.40,522.82 L551.40,519.89 L550.40,518.91 L547.40,518.91 M553.40,523.41 L554.80,523.41 M560.70,515.00 L556.70,515.00 L556.70,518.91 L560.10,518.91 L560.70,519.69 L560.70,523.02 L560.10,523.80 L556.70,523.80 M563.80,513.24 L564.50,513.83 M563.50,516.76 L564.50,517.35 M563.50,523.41 L564.90,520.28 M565.90,514.41 L570.50,514.41 L570.50,515.98 M565.90,514.41 L565.90,515.98 M568.10,513.04 L568.10,514.41 M566.70,517.54 L569.90,517.54 M567.70,517.54 L567.70,519.89 L566.10,524.00 M569.10,517.54 L569.10,523.60 L570.50,523.60 L570.50,522.04 M571.10,513.83 L574.30,513.83 L572.90,516.17 M572.90,516.17 L572.90,524.00 L571.90,523.41 M571.10,518.91 L574.70,517.93 M576.10,513.04 L576.10,523.60 L578.50,523.60 L578.50,521.84 M581.10,517.54 L583.70,517.54 L584.70,518.52 L584.70,521.84 L583.70,522.82 L581.10,522.82 L580.10,521.84 L580.10,518.52 Z M582.40,515.59 L582.40,524.39 M586.70,516.56 L588.30,515.00 L588.30,523.80 M590.10,516.56 L591.70,515.00 L591.70,523.80 M595.80,512.85 L596.50,513.44 M597.10,513.24 L601.90,513.24 M598.90,512.07 L598.90,524.19 M596.90,515.39 L601.10,515.39 M597.30,515.39 L597.30,518.13 M600.70,515.39 L600.70,517.74 M595.50,517.54 L596.50,518.13 M596.70,519.11 L601.90,519.11 M598.90,519.30 L595.90,523.21 M595.50,521.65 L596.50,522.04 M598.90,519.89 L602.10,523.41 M599.90,521.45 L600.90,521.06 M597.70,516.96 L600.10,516.96 M603.10,516.47 L604.10,515.00 L606.10,515.00 L607.10,515.98 L607.10,518.42 L603.10,522.82 L603.10,523.80 L607.10,523.80 M609.50,515.00 L611.50,515.00 L612.50,515.98 L612.50,517.93 L611.50,518.91 L609.50,518.91 L608.50,517.93 L608.50,515.98 Z M609.50,518.91 L608.50,519.89 L608.50,522.82 L609.50,523.80 L611.50,523.80 L612.50,522.82 L612.50,519.89 L611.50,518.91" fill="none" stroke="#000" stroke-width="1.0"/>
<line x1="477" y1="306.7" x2="477" y2="446" stroke="#000" stroke-width="2" />
<rect x="477" y="314.5" width="12" height="97.5" rx="0" fill="none" stroke="#000" stroke-width="2"/>
<line x1="489" y1="314.5" x2="494" y2="314.5" stroke="#000" stroke-width="2" />
<rect x="455" y="280.5" width="36.19999999999999" height="25.30000000000001" rx="0" fill="none" stroke="#000" stroke-width="2"/>
<rect x="463.4" y="283" width="2.6" height="23" fill="#000"/>
<rect x="480" y="283" width="2.6" height="23" fill="#000"/>
<rect x="467.8" y="281" width="10.2" height="25" fill="#000"/>
<rect x="463.4" y="293.5" width="14.6" height="12.3" fill="#000"/>
<line x1="470" y1="283" x2="470" y2="292" stroke="#fff" stroke-width="0.8" />
<line x1="475.5" y1="283" x2="475.5" y2="292" stroke="#fff" stroke-width="0.8" />
<line x1="425" y1="293.5" x2="581" y2="293.5" stroke="#000" stroke-width="1" />
<rect x="494" y="259.9" width="63.200000000000045" height="90.90000000000003" rx="0" fill="none" stroke="#000" stroke-width="2"/>
<line x1="506" y1="259.9" x2="506" y2="326.6" stroke="#000" stroke-width="2" />
<line x1="490" y1="326.6" x2="557.2" y2="326.6" stroke="#000" stroke-width="2" />
<line x1="531.6" y1="257" x2="531.6" y2="331.6" stroke="#000" stroke-width="1" />
<rect x="557.2" y="281.4" width="12.799999999999955" height="23.600000000000023" rx="0" fill="none" stroke="#000" stroke-width="2"/>
<rect x="570" y="276.2" width="12.5" height="35.10000000000002" rx="2.5" fill="none" stroke="#000" stroke-width="2"/>
<line x1="571.6" y1="277" x2="571.6" y2="311" stroke="#000" stroke-width="2" />
<rect x="572" y="277.5" width="9.5" height="12.5" fill="url(#knurl)"/>
<circle cx="565" cy="293.5" r="2.8" fill="#000" stroke="#000" stroke-width="2"/>
<rect x="507.5" y="351" width="9.5" height="10" rx="3" fill="none" stroke="#000" stroke-width="2"/>
<rect x="517" y="351" width="29" height="11" rx="0" fill="none" stroke="#000" stroke-width="2"/>
<rect x="546" y="351" width="10" height="10" rx="3" fill="none" stroke="#000" stroke-width="2"/>
<line x1="557" y1="260" x2="603" y2="260" stroke="#000" stroke-width="1" />
<line x1="600.6" y1="260" x2="600.6" y2="458" stroke="#000" stroke-width="1" />
<line x1="477" y1="458" x2="603" y2="458" stroke="#000" stroke-width="1" />
<path transform="rotate(-90 590.4 358.8) translate(583.90,354.80)" d="M0.71,1.42 L2.14,0.00 L2.14,8.00 M5.00,1.33 L5.89,0.00 L7.67,0.00 L8.56,0.89 L8.56,3.11 L5.00,7.11 L5.00,8.00 L8.56,8.00 M11.49,0.00 L13.27,0.00 L14.16,0.89 L14.16,2.67 L13.27,3.56 L11.49,3.56 L10.60,2.67 L10.60,0.89 Z M11.49,3.56 L10.60,4.44 L10.60,7.11 L11.49,8.00 L13.27,8.00 L14.16,7.11 L14.16,4.44 L13.27,3.56" fill="none" stroke="#000" stroke-width="1.0" stroke-linejoin="miter"/>
<line x1="477" y1="370" x2="526" y2="370" stroke="#000" stroke-width="1" />
<line x1="522.5" y1="370" x2="522.5" y2="458" stroke="#000" stroke-width="1" />
<path transform="rotate(-90 512.4 414.7) translate(507.90,410.70)" d="M3.75,0.00 L0.00,0.00 L0.00,3.56 L3.19,3.56 L3.75,4.27 L3.75,7.29 L3.19,8.00 L0.00,8.00 M5.60,0.00 L9.35,0.00 L9.35,1.07 L7.10,8.00" fill="none" stroke="#000" stroke-width="1.0" stroke-linejoin="miter"/>
<path transform="translate(601.00,199.50)" d="M3.18,8.00 L3.18,0.00 L0.00,5.78 L0.00,6.22 L4.46,6.22 M6.13,4.27 L9.31,4.27 M11.20,8.00 L11.20,0.00 L13.32,4.00 L15.44,0.00 L15.44,8.00 M21.44,0.89 L20.38,0.00 L18.26,0.00 L17.20,0.89 L17.20,7.11 L18.26,8.00 L20.38,8.00 L21.44,7.11 L21.44,4.44 L20.38,3.56 L17.20,3.56 M23.12,-1.96 L23.86,-1.42 M24.50,-1.60 L29.59,-1.60 M26.41,-2.67 L26.41,8.36 M24.29,0.36 L28.74,0.36 M24.71,0.36 L24.71,2.84 M28.32,0.36 L28.32,2.49 M22.80,2.31 L23.86,2.84 M24.07,3.73 L29.59,3.73 M26.41,3.91 L23.22,7.47 M22.80,6.04 L23.86,6.40 M26.41,4.44 L29.80,7.64 M27.47,5.87 L28.53,5.51 M25.13,1.78 L27.68,1.78 M30.40,0.00 L34.64,0.00 L34.64,1.07 L32.10,8.00" fill="none" stroke="#000" stroke-width="1.0" stroke-linejoin="miter"/>
<polyline points="601,213.3 646.9,213.3 671.6,332" fill="none" stroke="#000" stroke-width="1"/>
<line x1="669.2" y1="240.2" x2="708.8" y2="240.2" stroke="#000" stroke-width="1" />
<line x1="669.2" y1="237" x2="669.2" y2="321.5" stroke="#000" stroke-width="1" />
<line x1="708.8" y1="237" x2="708.8" y2="321.5" stroke="#000" stroke-width="1" />
<path transform="translate(684.75,226.95)" d="M0.00,1.25 L0.93,0.00 L2.78,0.00 L3.71,0.83 L3.71,2.92 L0.00,6.67 L0.00,7.50 L3.71,7.50 M9.31,0.00 L5.60,0.00 L5.60,3.33 L8.75,3.33 L9.31,4.00 L9.31,6.83 L8.75,7.50 L5.60,7.50" fill="none" stroke="#000" stroke-width="1.0" stroke-linejoin="miter"/>
<rect x="663.3" y="266.9" width="52.10000000000002" height="180.70000000000005" rx="0" fill="none" stroke="#000" stroke-width="2"/>
<line x1="663.3" y1="278.7" x2="715.4" y2="278.7" stroke="#000" stroke-width="2" />
<line x1="663.3" y1="330.5" x2="715.4" y2="330.5" stroke="#000" stroke-width="2" />
<line x1="663.3" y1="388.9" x2="715.4" y2="388.9" stroke="#000" stroke-width="2" />
<line x1="663.3" y1="437" x2="733.5" y2="437" stroke="#000" stroke-width="2" />
<rect x="715.4" y="281.6" width="18.100000000000023" height="155.39999999999998" rx="0" fill="none" stroke="#000" stroke-width="2"/>
<line x1="715.4" y1="281.6" x2="715.4" y2="447.6" stroke="#000" stroke-width="3" />
<circle cx="669.5" cy="321.5" r="3.9" fill="none" stroke="#000" stroke-width="2.2"/>
<circle cx="669.5" cy="398.4" r="3.9" fill="none" stroke="#000" stroke-width="2.2"/>
<circle cx="708.6" cy="321.5" r="3.9" fill="none" stroke="#000" stroke-width="2.2"/>
<circle cx="708.6" cy="398.4" r="3.9" fill="none" stroke="#000" stroke-width="2.2"/>
<line x1="654.3" y1="359.3" x2="738" y2="359.3" stroke="#000" stroke-width="1" />
<line x1="716" y1="308.9" x2="720.3" y2="308.9" stroke="#000" stroke-width="1" />
<line x1="716" y1="311.6" x2="720.3" y2="311.6" stroke="#000" stroke-width="1" />
<line x1="716" y1="314.3" x2="720.3" y2="314.3" stroke="#000" stroke-width="1" />
<line x1="716" y1="317.0" x2="720.3" y2="317.0" stroke="#000" stroke-width="1" />
<line x1="716" y1="319.6" x2="722.3" y2="319.6" stroke="#000" stroke-width="1" />
<line x1="716" y1="322.3" x2="720.3" y2="322.3" stroke="#000" stroke-width="1" />
<line x1="716" y1="325.0" x2="720.3" y2="325.0" stroke="#000" stroke-width="1" />
<line x1="716" y1="327.7" x2="720.3" y2="327.7" stroke="#000" stroke-width="1" />
<line x1="716" y1="330.4" x2="720.3" y2="330.4" stroke="#000" stroke-width="1" />
<line x1="716" y1="333.1" x2="722.3" y2="333.1" stroke="#000" stroke-width="1" />
<line x1="716" y1="335.8" x2="720.3" y2="335.8" stroke="#000" stroke-width="1" />
<line x1="716" y1="338.5" x2="720.3" y2="338.5" stroke="#000" stroke-width="1" />
<line x1="716" y1="341.2" x2="720.3" y2="341.2" stroke="#000" stroke-width="1" />
<line x1="716" y1="343.9" x2="720.3" y2="343.9" stroke="#000" stroke-width="1" />
<line x1="716" y1="346.6" x2="722.3" y2="346.6" stroke="#000" stroke-width="1" />
<line x1="716" y1="349.2" x2="720.3" y2="349.2" stroke="#000" stroke-width="1" />
<line x1="716" y1="351.9" x2="720.3" y2="351.9" stroke="#000" stroke-width="1" />
<line x1="716" y1="354.6" x2="720.3" y2="354.6" stroke="#000" stroke-width="1" />
<line x1="716" y1="357.3" x2="720.3" y2="357.3" stroke="#000" stroke-width="1" />
<line x1="716" y1="360.0" x2="722.3" y2="360.0" stroke="#000" stroke-width="1" />
<line x1="716" y1="362.7" x2="720.3" y2="362.7" stroke="#000" stroke-width="1" />
<line x1="716" y1="365.4" x2="720.3" y2="365.4" stroke="#000" stroke-width="1" />
<line x1="716" y1="368.1" x2="720.3" y2="368.1" stroke="#000" stroke-width="1" />
<line x1="716" y1="370.8" x2="720.3" y2="370.8" stroke="#000" stroke-width="1" />
<line x1="716" y1="373.4" x2="722.3" y2="373.4" stroke="#000" stroke-width="1" />
<line x1="716" y1="376.1" x2="720.3" y2="376.1" stroke="#000" stroke-width="1" />
<line x1="716" y1="378.8" x2="720.3" y2="378.8" stroke="#000" stroke-width="1" />
<line x1="716" y1="381.5" x2="720.3" y2="381.5" stroke="#000" stroke-width="1" />
<line x1="716" y1="384.2" x2="720.3" y2="384.2" stroke="#000" stroke-width="1" />
<line x1="716" y1="386.9" x2="722.3" y2="386.9" stroke="#000" stroke-width="1" />
<line x1="716" y1="389.6" x2="720.3" y2="389.6" stroke="#000" stroke-width="1" />
<line x1="716" y1="392.3" x2="720.3" y2="392.3" stroke="#000" stroke-width="1" />
<line x1="716" y1="395.0" x2="720.3" y2="395.0" stroke="#000" stroke-width="1" />
<line x1="716" y1="397.7" x2="720.3" y2="397.7" stroke="#000" stroke-width="1" />
<line x1="716" y1="400.4" x2="722.3" y2="400.4" stroke="#000" stroke-width="1" />
<line x1="716" y1="403.0" x2="720.3" y2="403.0" stroke="#000" stroke-width="1" />
<line x1="716" y1="405.7" x2="720.3" y2="405.7" stroke="#000" stroke-width="1" />
<line x1="716" y1="408.4" x2="720.3" y2="408.4" stroke="#000" stroke-width="1" />
<line x1="716" y1="411.1" x2="720.3" y2="411.1" stroke="#000" stroke-width="1" />
<path transform="rotate(90 726.5 318.9) translate(723.85,316.40)" d="M0.00,0.67 L0.33,0.00 L1.88,0.00 L2.21,0.44 L2.21,2.00 L1.77,2.50 L2.21,3.00 L2.21,4.56 L1.88,5.00 L0.33,5.00 L0.00,4.33 M6.15,0.00 L7.26,0.00 L7.81,0.56 L7.81,4.44 L7.26,5.00 L6.15,5.00 L5.60,4.44 L5.60,0.56 Z" fill="none" stroke="#000" stroke-width="1.0" stroke-linejoin="miter"/>
<path transform="rotate(90 726.5 360.2) translate(725.50,357.70)" d="M0.50,0.00 L1.50,0.00 L2.00,0.56 L2.00,4.44 L1.50,5.00 L0.50,5.00 L0.00,4.44 L0.00,0.56 Z" fill="none" stroke="#000" stroke-width="1.0" stroke-linejoin="miter"/>
<path transform="rotate(90 726.5 399) translate(723.85,396.50)" d="M0.00,0.67 L0.33,0.00 L1.88,0.00 L2.21,0.44 L2.21,2.00 L1.77,2.50 L2.21,3.00 L2.21,4.56 L1.88,5.00 L0.33,5.00 L0.00,4.33 M6.15,0.00 L7.26,0.00 L7.81,0.56 L7.81,4.44 L7.26,5.00 L6.15,5.00 L5.60,4.44 L5.60,0.56 Z" fill="none" stroke="#000" stroke-width="1.0" stroke-linejoin="miter"/>
<line x1="622" y1="321.5" x2="669" y2="321.5" stroke="#000" stroke-width="1" />
<line x1="622" y1="398.4" x2="669" y2="398.4" stroke="#000" stroke-width="1" />
<line x1="623.8" y1="321.5" x2="623.8" y2="398.4" stroke="#000" stroke-width="1" />
<path transform="rotate(-90 613.4 360.5) translate(609.55,356.50)" d="M3.21,0.00 L0.00,0.00 L0.00,3.56 L2.73,3.56 L3.21,4.27 L3.21,7.29 L2.73,8.00 L0.00,8.00 M6.40,0.00 L8.01,0.00 L8.81,0.89 L8.81,7.11 L8.01,8.00 L6.40,8.00 L5.60,7.11 L5.60,0.89 Z" fill="none" stroke="#000" stroke-width="1.0" stroke-linejoin="miter"/>
<line x1="643" y1="330.5" x2="663" y2="330.5" stroke="#000" stroke-width="1" />
<line x1="643" y1="388.9" x2="663" y2="388.9" stroke="#000" stroke-width="1" />
<line x1="643.7" y1="330.5" x2="643.7" y2="388.9" stroke="#000" stroke-width="1" />
<path transform="rotate(-90 633.5 360) translate(629.00,356.00)" d="M0.00,1.07 L0.56,0.00 L3.19,0.00 L3.75,0.71 L3.75,3.20 L3.00,4.00 L3.75,4.80 L3.75,7.29 L3.19,8.00 L0.56,8.00 L0.00,6.93 M6.54,0.00 L8.41,0.00 L9.35,0.89 L9.35,2.67 L8.41,3.56 L6.54,3.56 L5.60,2.67 L5.60,0.89 Z M6.54,3.56 L5.60,4.44 L5.60,7.11 L6.54,8.00 L8.41,8.00 L9.35,7.11 L9.35,4.44 L8.41,3.56" fill="none" stroke="#000" stroke-width="1.0" stroke-linejoin="miter"/>
<line x1="733.5" y1="281.6" x2="774.4" y2="281.6" stroke="#000" stroke-width="1" />
<line x1="733.5" y1="437.6" x2="774.4" y2="437.6" stroke="#000" stroke-width="1" />
<line x1="772.1" y1="281.6" x2="772.1" y2="437.6" stroke="#000" stroke-width="1" />
<path transform="rotate(-90 761.4 359.1) translate(752.20,354.75)" d="M0.88,2.51 L3.15,2.51 L4.03,3.48 L4.03,6.77 L3.15,7.73 L0.88,7.73 L0.00,6.77 L0.00,3.48 Z M2.02,0.58 L2.02,9.28 M7.10,1.55 L8.50,0.00 L8.50,8.70 M12.28,0.00 L14.03,0.00 L14.90,0.97 L14.90,7.73 L14.03,8.70 L12.28,8.70 L11.40,7.73 L11.40,0.97 Z M17.88,0.00 L19.63,0.00 L20.50,0.97 L20.50,7.73 L19.63,8.70 L17.88,8.70 L17.00,7.73 L17.00,0.97 Z" fill="none" stroke="#000" stroke-width="1.0" stroke-linejoin="miter"/>
<line x1="715.4" y1="447.6" x2="715.4" y2="482.2" stroke="#000" stroke-width="1" />
<line x1="663.3" y1="447.6" x2="663.3" y2="547" stroke="#000" stroke-width="1" />
<line x1="733.5" y1="437" x2="733.5" y2="547" stroke="#000" stroke-width="1" />
<line x1="663.3" y1="480.4" x2="715.4" y2="480.4" stroke="#000" stroke-width="1" />
<path transform="translate(679.90,465.65)" d="M0.00,1.03 L0.59,0.00 L3.33,0.00 L3.91,0.68 L3.91,3.08 L3.13,3.85 L3.91,4.62 L3.91,7.02 L3.33,7.70 L0.59,7.70 L0.00,6.67 M5.60,1.03 L6.19,0.00 L8.93,0.00 L9.51,0.68 L9.51,3.08 L8.73,3.85 L9.51,4.62 L9.51,7.02 L8.93,7.70 L6.19,7.70 L5.60,6.67 M12.47,7.36 L13.84,7.36 M18.31,0.00 L14.40,0.00 L14.40,3.42 L17.73,3.42 L18.31,4.11 L18.31,7.02 L17.73,7.70 L14.40,7.70" fill="none" stroke="#000" stroke-width="1.0" stroke-linejoin="miter"/>
<line x1="663.3" y1="544.4" x2="733.5" y2="544.4" stroke="#000" stroke-width="1" />
<path transform="translate(693.05,529.65)" d="M3.09,7.70 L3.09,0.00 L0.00,5.56 L0.00,5.99 L4.33,5.99 M9.72,0.00 L5.60,0.00 L5.60,3.42 L9.11,3.42 L9.72,4.11 L9.72,7.02 L9.11,7.70 L5.60,7.70" fill="none" stroke="#000" stroke-width="1.0" stroke-linejoin="miter"/>
</svg>
</body></html>
